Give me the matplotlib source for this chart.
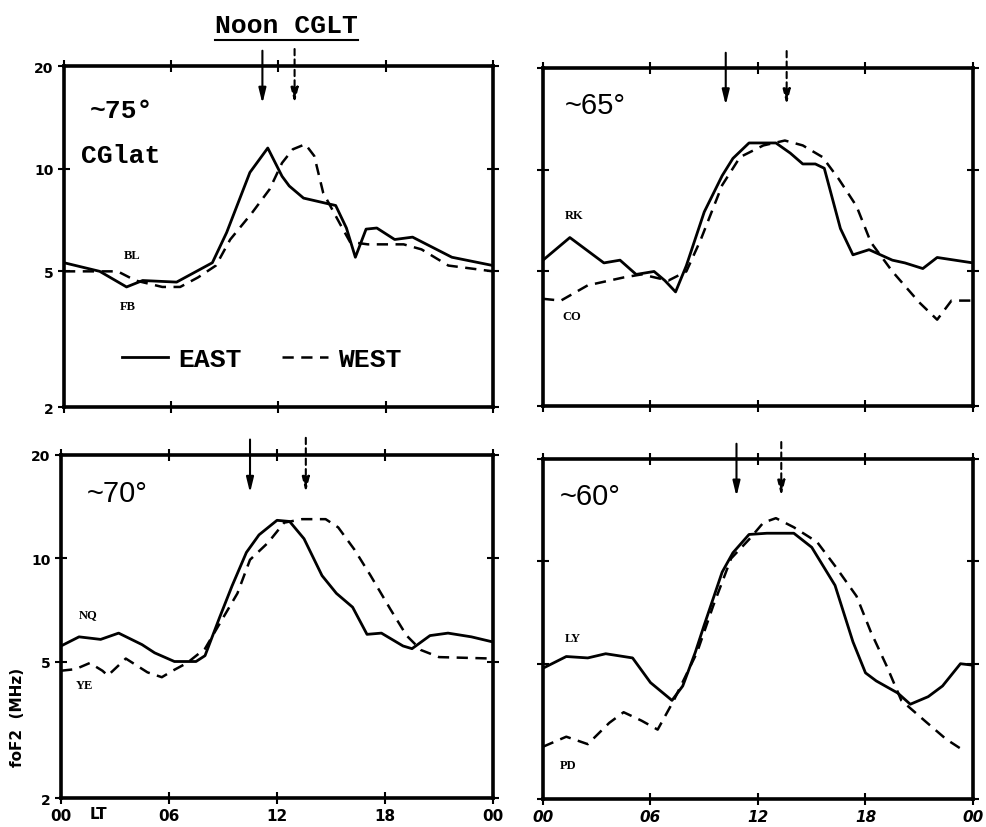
import numpy as np
import matplotlib.pyplot as plt
from matplotlib.lines import Line2D
from matplotlib.transforms import blended_transform_factory

# foF2 (MHz) versus local time, east / west station pairs
# ~75 deg CGlat (BL east, FB west)
h75_e = [0, 2.0, 3.5, 4.4, 6.3, 8.3, 9.1, 10.4, 11.4, 12.2, 12.6, 13.4, 15.2, 15.8, 16.3, 16.9, 17.5, 18.5, 19.5, 21.7, 24]
f75_e = [5.3, 5.0, 4.5, 4.7, 4.65, 5.3, 6.5, 9.75, 11.5, 9.5, 8.9, 8.2, 7.8, 6.7, 5.5, 6.65, 6.7, 6.2, 6.3, 5.5, 5.2]
h75_w = [0, 3.0, 4.0, 5.5, 6.5, 7.5, 8.5, 9.3, 10.5, 11.5, 12.2, 12.8, 13.5, 14.0, 14.5, 15.5, 16.0, 17.0, 19.0, 20.0, 21.5, 24]
f75_w = [5.0, 5.0, 4.7, 4.5, 4.5, 4.8, 5.2, 6.2, 7.4, 8.7, 10.4, 11.4, 11.8, 10.9, 8.5, 6.8, 6.1, 6.0, 6.0, 5.8, 5.2, 5.0]

# ~65 deg (RK east, CO west)
h65_e = [0, 1.5, 3.4, 4.3, 5.2, 6.2, 6.8, 7.4, 8.0, 9.0, 10.0, 10.6, 11.5, 12.3, 13.0, 13.8, 14.5, 15.2, 15.7, 16.6, 17.3, 18.2, 19.5, 20.2, 21.2, 22.0, 24]
f65_e = [5.4, 6.3, 5.3, 5.4, 4.9, 5.0, 4.7, 4.35, 5.2, 7.5, 9.6, 10.8, 12.0, 12.0, 12.0, 11.2, 10.4, 10.4, 10.1, 6.7, 5.6, 5.8, 5.4, 5.3, 5.1, 5.5, 5.3]
h65_w = [0, 1.0, 2.5, 4.5, 5.5, 7.0, 8.0, 8.8, 10.0, 11.0, 12.3, 13.5, 14.5, 15.6, 16.5, 17.5, 18.3, 19.5, 21.0, 22.0, 22.8, 24]
f65_w = [4.15, 4.1, 4.55, 4.8, 4.9, 4.7, 5.0, 6.2, 9.0, 10.9, 11.8, 12.2, 11.8, 10.9, 9.4, 7.8, 6.1, 5.0, 4.05, 3.6, 4.1, 4.1]

# ~70 deg (NQ east, YE west)
h70_e = [0, 1.0, 2.2, 3.2, 4.5, 5.2, 6.3, 7.5, 8.0, 8.8, 9.5, 10.3, 11.0, 12.0, 12.7, 13.5, 14.5, 15.3, 16.2, 17.0, 17.8, 19.0, 19.5, 20.5, 21.5, 22.8, 24]
f70_e = [5.55, 5.9, 5.8, 6.05, 5.6, 5.3, 5.0, 5.0, 5.2, 6.7, 8.3, 10.4, 11.7, 12.9, 12.8, 11.4, 8.9, 7.9, 7.2, 6.0, 6.05, 5.55, 5.45, 5.95, 6.05, 5.9, 5.7]
h70_w = [0, 0.8, 1.6, 2.3, 2.6, 3.6, 4.8, 5.6, 6.2, 7.0, 8.0, 9.0, 9.8, 10.5, 11.5, 12.4, 13.4, 14.7, 15.4, 16.3, 17.2, 18.3, 19.2, 20.0, 21.0, 24]
f70_w = [4.7, 4.75, 4.95, 4.7, 4.55, 5.1, 4.65, 4.5, 4.7, 4.95, 5.45, 6.7, 7.9, 9.9, 11.1, 12.7, 13.0, 13.0, 12.3, 10.6, 8.9, 7.1, 5.95, 5.4, 5.15, 5.1]

# ~60 deg (LY east, PD west)
h60_e = [0, 1.3, 2.5, 3.5, 5.0, 6.0, 7.2, 7.8, 8.5, 9.0, 10.0, 10.6, 11.5, 12.5, 14.0, 15.0, 16.3, 17.3, 18.0, 18.6, 19.8, 20.5, 21.5, 22.3, 23.3, 24]
f60_e = [4.85, 5.25, 5.2, 5.35, 5.2, 4.4, 3.9, 4.3, 5.4, 6.5, 9.3, 10.6, 12.0, 12.1, 12.1, 11.0, 8.5, 5.8, 4.7, 4.45, 4.1, 3.8, 4.0, 4.3, 5.0, 4.95]
h60_w = [0, 1.3, 2.5, 3.7, 4.5, 5.5, 6.4, 7.3, 8.6, 9.5, 10.5, 11.5, 12.3, 13.0, 14.0, 15.3, 16.3, 17.5, 18.3, 19.2, 20.0, 21.3, 22.5, 23.6]
f60_w = [2.85, 3.05, 2.9, 3.35, 3.6, 3.4, 3.2, 3.9, 5.4, 7.4, 10.2, 11.6, 13.0, 13.4, 12.6, 11.4, 9.7, 7.9, 6.2, 4.9, 3.9, 3.4, 3.0, 2.75]

# noon CGLT (hours LT) for east / west station
noon_e = {"75": 11.1, "65": 10.2, "70": 10.5, "60": 10.8}
noon_w = {"75": 12.9, "65": 13.6, "70": 13.6, "60": 13.3}

xticks = [0, 6, 12, 18, 24]
xlabels = ["00", "06", "12", "18", "00"]
yticks = [2, 5, 10, 20]
ylabels = ["2", "5", "10", "20"]

mono = "Liberation Mono"
serif = "Liberation Serif"

fig = plt.figure(figsize=(9.86, 8.28), dpi=100)
ax_tl = fig.add_axes([0.0649, 0.5072, 0.4351, 0.4118])
ax_tr = fig.add_axes([0.5507, 0.5085, 0.4361, 0.4082])
ax_bl = fig.add_axes([0.0619, 0.0350, 0.4381, 0.4143])
ax_br = fig.add_axes([0.5507, 0.0338, 0.4361, 0.4106])

panels = [
    (ax_tl, "75", h75_e, f75_e, h75_w, f75_w),
    (ax_tr, "65", h65_e, f65_e, h65_w, f65_w),
    (ax_bl, "70", h70_e, f70_e, h70_w, f70_w),
    (ax_br, "60", h60_e, f60_e, h60_w, f60_w),
]

for ax, key, he, fe, hw, fw in panels:
    ax.plot(he, fe, color="black", lw=2.0)
    ax.plot(hw, fw, color="black", lw=1.8, ls=(0, (4.5, 3)))
    ax.set_yscale("log")
    ax.set_xlim(0, 24)
    ax.set_ylim(2, 20)
    ax.set_xticks(xticks)
    ax.set_yticks(yticks)
    ax.minorticks_off()
    ax.tick_params(direction="inout", length=9, width=1.5, top=True, right=True,
                   labelbottom=False, labelleft=False, pad=3)
    for s in ax.spines.values():
        s.set_linewidth(2.6)

    # noon arrows across the top frame
    tr = blended_transform_factory(ax.transData, ax.transAxes)
    ax.annotate("", xy=(noon_e[key], 0.89), xytext=(noon_e[key], 1.045),
                xycoords=tr, textcoords=tr, annotation_clip=False,
                arrowprops=dict(arrowstyle="-|>,head_length=0.9,head_width=0.22",
                                color="black", lw=1.5, shrinkA=0, shrinkB=0))
    ax.annotate("", xy=(noon_w[key], 0.89), xytext=(noon_w[key], 1.05),
                xycoords=tr, textcoords=tr, annotation_clip=False,
                arrowprops=dict(arrowstyle="-|>,head_length=0.9,head_width=0.22",
                                color="black", lw=1.5, ls=(0, (3, 2)),
                                shrinkA=0, shrinkB=0))

# left panels carry y tick labels
for ax in (ax_tl, ax_bl):
    ax.tick_params(labelleft=True)
    ax.set_yticklabels(ylabels, fontsize=10, fontweight="bold")

# bottom panels carry x tick labels
for ax in (ax_bl, ax_br):
    ax.tick_params(labelbottom=True)
    ax.set_xticklabels(xlabels, fontsize=11, fontweight="bold")
for t in ax_br.get_xticklabels():
    t.set_style("italic")
ax_bl.text(2.1, -0.022, "LT", transform=blended_transform_factory(ax_bl.transData, ax_bl.transAxes),
           ha="center", va="top", fontsize=11, fontweight="bold")

# panel annotations
ax_tl.text(0.06, 0.87, "~75°", transform=ax_tl.transAxes, fontsize=19, fontweight="bold",
           family=mono, va="center")
ax_tl.text(0.04, 0.74, "CGlat", transform=ax_tl.transAxes, fontsize=19, fontweight="bold",
           family=mono, va="center")
ax_tr.text(0.05, 0.89, "~65°", transform=ax_tr.transAxes, fontsize=21, family="Liberation Sans",
           va="center")
ax_bl.text(0.06, 0.89, "~70°", transform=ax_bl.transAxes, fontsize=21, family="Liberation Sans",
           va="center")
ax_br.text(0.04, 0.89, "~60°", transform=ax_br.transAxes, fontsize=21, family="Liberation Sans",
           va="center")

station_pos = {
    "BL": (ax_tl, 0.14, 0.445), "FB": (ax_tl, 0.13, 0.295),
    "RK": (ax_tr, 0.05, 0.565), "CO": (ax_tr, 0.045, 0.265),
    "NQ": (ax_bl, 0.04, 0.535), "YE": (ax_bl, 0.035, 0.33),
    "LY": (ax_br, 0.05, 0.475), "PD": (ax_br, 0.04, 0.10),
}
for name, (ax, x, y) in station_pos.items():
    ax.text(x, y, name, transform=ax.transAxes, fontsize=9, fontweight="bold",
            family=serif, va="center")

handles = [Line2D([], [], color="black", lw=2.0),
           Line2D([], [], color="black", lw=1.8, ls=(0, (4.5, 3)))]
ax_tl.legend(handles, ["EAST", "WEST"], ncol=2, frameon=False, loc="center left",
             bbox_to_anchor=(0.135, 0.14), handlelength=1.75, columnspacing=1.5,
             handletextpad=0.4, borderaxespad=0, borderpad=0,
             prop=dict(family=mono, weight="bold", size=19))

fig.text(0.291, 0.968, "Noon CGLT", ha="center", va="center", fontsize=19,
         fontweight="bold", family=mono)
fig.add_artist(Line2D([0.218, 0.363], [0.951, 0.951], color="black", lw=1.5))

fig.text(0.018, 0.133, "foF2  (MHz)", rotation=90, ha="center", va="center",
         fontsize=11, fontweight="bold")

fig.savefig("out.png", dpi=100)
